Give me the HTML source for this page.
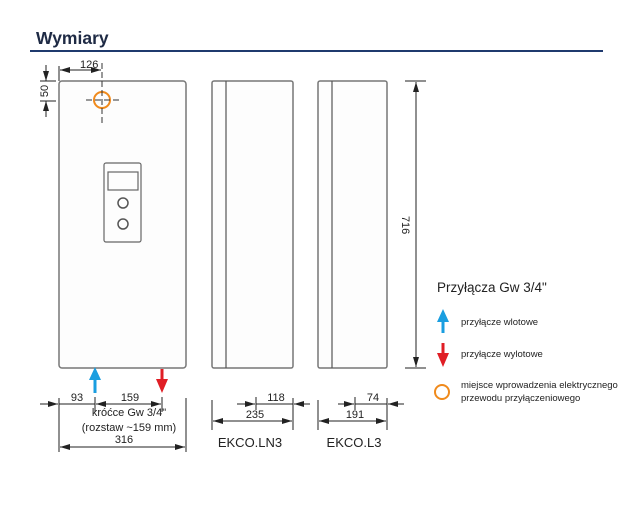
<!DOCTYPE html>
<html><head><meta charset="utf-8"><style>
html,body{margin:0;padding:0;background:#fff;}
svg{display:block;font-family:"Liberation Sans Narrow","Liberation Sans",sans-serif;}
</style></head><body>
<svg width="640" height="513" viewBox="0 0 640 513" xmlns="http://www.w3.org/2000/svg">
<defs>
<marker id="a" viewBox="0 0 10 6" refX="10" refY="3" markerWidth="10" markerHeight="6" orient="auto" markerUnits="userSpaceOnUse"><path d="M0,0L10,3L0,6z" fill="#222"/></marker>
</defs>
<text x="36" y="44" font-family="Liberation Sans,sans-serif" font-weight="bold" font-size="17.5" fill="#1e2a44">Wymiary</text>
<line x1="30" y1="51" x2="603" y2="51" stroke="#1f3a6e" stroke-width="2"/>

<g fill="#fdfdfd" stroke="#777" stroke-width="1.5">
<rect x="59" y="81" width="127" height="287" rx="3"/>
<rect x="212" y="81" width="81" height="287" rx="2"/>
<rect x="318" y="81" width="69" height="287" rx="2"/>
</g>
<g stroke="#555" stroke-width="1.2">
<line x1="226" y1="81" x2="226" y2="368"/>
<line x1="332" y1="81" x2="332" y2="368"/>
</g>
<rect x="104" y="163" width="37" height="79" rx="2" fill="none" stroke="#666" stroke-width="1.2"/>
<rect x="108" y="172" width="30" height="18" fill="none" stroke="#666" stroke-width="1.2"/>
<circle cx="123" cy="203" r="5" fill="none" stroke="#555" stroke-width="1.5"/>
<circle cx="123" cy="224" r="5" fill="none" stroke="#555" stroke-width="1.5"/>
<circle cx="102" cy="100" r="8" fill="none" stroke="#f08a1c" stroke-width="2"/>
<g stroke="#333" stroke-width="1" stroke-dasharray="6,3">
<line x1="102" y1="63" x2="102" y2="125"/>
<line x1="86" y1="100" x2="122" y2="100"/>
</g>
<g stroke="#222" stroke-width="1" fill="none">
<line x1="59" y1="66" x2="59" y2="81"/>
<line x1="60" y1="70" x2="101" y2="70" marker-end="url(#a)"/>
<line x1="80" y1="70" x2="60" y2="70" marker-end="url(#a)"/>
<line x1="46" y1="65" x2="46" y2="81" marker-end="url(#a)"/>
<line x1="46" y1="117" x2="46" y2="101" marker-end="url(#a)"/>
<line x1="40" y1="81" x2="56" y2="81"/>
<line x1="40" y1="101" x2="56" y2="101"/>
<line x1="405" y1="81" x2="426" y2="81"/>
<line x1="405" y1="368" x2="426" y2="368"/>
<line x1="416" y1="225" x2="416" y2="82" marker-end="url(#a)"/>
<line x1="416" y1="225" x2="416" y2="367" marker-end="url(#a)"/>
</g>
<text x="80" y="68" font-size="11" fill="#222">126</text>
<text transform="translate(44,91) rotate(-90)" font-size="11" fill="#222" text-anchor="middle" dy="4">50</text>
<text transform="translate(402,225) rotate(90)" font-size="11" fill="#222" text-anchor="middle">716</text>

<line x1="95" y1="393" x2="95" y2="378" stroke="#1a9ee0" stroke-width="3"/>
<path d="M89,380L95,367L101,380z" fill="#1a9ee0"/>
<line x1="162" y1="369" x2="162" y2="381" stroke="#e01e25" stroke-width="3"/>
<path d="M156,379L162,393L168,379z" fill="#e01e25"/>

<g stroke="#222" stroke-width="1" fill="none">
<line x1="59" y1="398" x2="59" y2="452"/>
<line x1="186" y1="398" x2="186" y2="452"/>
<line x1="95" y1="397" x2="95" y2="412"/>
<line x1="162" y1="397" x2="162" y2="412"/>
<line x1="40" y1="404" x2="58" y2="404" marker-end="url(#a)"/>
<line x1="59" y1="404" x2="95" y2="404"/>
<line x1="110" y1="404" x2="96" y2="404" marker-end="url(#a)"/>
<line x1="110" y1="404" x2="161" y2="404" marker-end="url(#a)"/>
<line x1="122" y1="447" x2="60" y2="447" marker-end="url(#a)"/>
<line x1="122" y1="447" x2="185" y2="447" marker-end="url(#a)"/>
<line x1="212" y1="400" x2="212" y2="430"/>
<line x1="293" y1="398" x2="293" y2="430"/>
<line x1="256" y1="397" x2="256" y2="410"/>
<line x1="237" y1="404" x2="255" y2="404" marker-end="url(#a)"/>
<line x1="256" y1="404" x2="293" y2="404"/>
<line x1="310" y1="404" x2="294" y2="404" marker-end="url(#a)"/>
<line x1="252" y1="421" x2="213" y2="421" marker-end="url(#a)"/>
<line x1="252" y1="421" x2="292" y2="421" marker-end="url(#a)"/>
<line x1="318" y1="400" x2="318" y2="430"/>
<line x1="387" y1="398" x2="387" y2="430"/>
<line x1="355" y1="397" x2="355" y2="410"/>
<line x1="338" y1="404" x2="354" y2="404" marker-end="url(#a)"/>
<line x1="355" y1="404" x2="387" y2="404"/>
<line x1="404" y1="404" x2="388" y2="404" marker-end="url(#a)"/>
<line x1="352" y1="421" x2="319" y2="421" marker-end="url(#a)"/>
<line x1="352" y1="421" x2="386" y2="421" marker-end="url(#a)"/>
</g>
<g font-size="11" fill="#222" text-anchor="middle">
<text x="77" y="401">93</text>
<text x="130" y="401">159</text>
<text x="129" y="416">króćce Gw 3/4"</text>
<text x="129" y="431">(rozstaw ~159 mm)</text>
<text x="124" y="443">316</text>
<text x="276" y="401">118</text>
<text x="255" y="418">235</text>
<text x="373" y="401">74</text>
<text x="355" y="418">191</text>
</g>
<g font-family="Liberation Sans,sans-serif" font-size="13" fill="#222" text-anchor="middle">
<text x="250" y="447">EKCO.LN3</text>
<text x="354" y="447">EKCO.L3</text>
</g>

<text x="437" y="292" font-family="Liberation Sans,sans-serif" font-size="13.5" fill="#222">Przyłącza  Gw 3/4"</text>
<line x1="443" y1="333" x2="443" y2="320" stroke="#1a9ee0" stroke-width="3"/>
<path d="M437,322L443,309L449,322z" fill="#1a9ee0"/>
<text x="461" y="325" font-size="9.5" fill="#222">przyłącze wlotowe</text>
<line x1="443" y1="343" x2="443" y2="355" stroke="#e01e25" stroke-width="3"/>
<path d="M437,353L443,367L449,353z" fill="#e01e25"/>
<text x="461" y="357" font-size="9.5" fill="#222">przyłącze wylotowe</text>
<circle cx="442" cy="392" r="7" fill="none" stroke="#f08a1c" stroke-width="2"/>
<text x="461" y="388" font-size="9.5" fill="#222">miejsce wprowadzenia elektrycznego</text>
<text x="461" y="401" font-size="9.5" fill="#222">przewodu przyłączeniowego</text>
</svg>
</body></html>
